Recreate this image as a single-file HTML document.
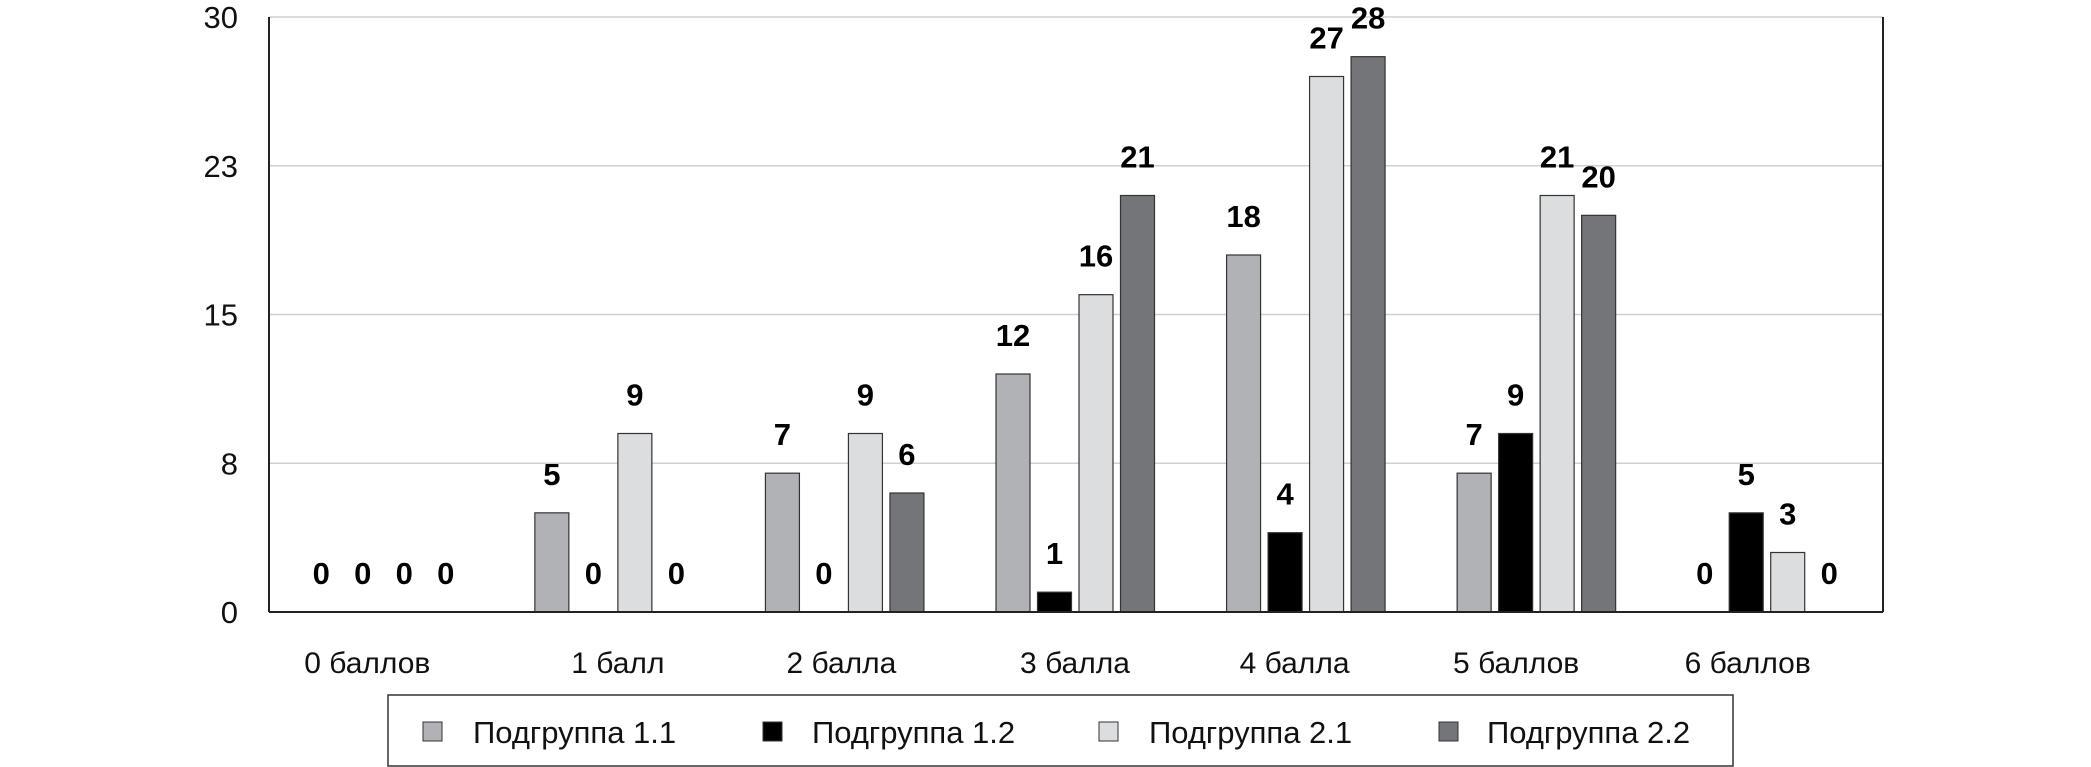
<!DOCTYPE html>
<html><head><meta charset="utf-8"><style>
html,body{margin:0;padding:0;background:#fff;}
svg{display:block;font-family:"Liberation Sans Narrow","Liberation Sans",sans-serif;}
</style></head><body>
<svg id="chart" width="2091" height="767" viewBox="0 0 2091 767"></svg>
<script>
const categories=["0 баллов","1 балл","2 балла","3 балла","4 балла","5 баллов","6 баллов"];
const s11=[0,5,7,12,18,7,0];
const s12=[0,0,0,1,4,9,5];
const s21=[0,9,9,16,27,21,3];
const s22=[0,0,6,21,28,20,0];
const seriesNames=["Подгруппа 1.1","Подгруппа 1.2","Подгруппа 2.1","Подгруппа 2.2"];
const tickValues=[0,7.5,15,22.5,30];
const tickLabels=["0","8","15","23","30"];
const NS="http://www.w3.org/2000/svg";
const svg=document.getElementById('chart');
const colors=["#b1b2b5","#000000","#dcdddf","#747579"];
const labelShift=[-17,3,-4,-1,-12,-21,-20];
const L=269,R=1883,T=17,B=612,YMAX=30;
const y=v=>B-(v/YMAX)*(B-T);
const bw=(R-L)/categories.length;
const xc=i=>L+bw*(i+0.5);
function mk(tag,attrs){const e=document.createElementNS(NS,tag);for(const k in attrs)e.setAttribute(k,attrs[k]);svg.appendChild(e);return e;}
tickValues.forEach((v,i)=>{
  if(v>0){const g=mk('line',{x1:L,x2:R,y1:y(v),y2:y(v),stroke:'#d0d0d0','stroke-width':1.5});
  
  }
  const t=mk('text',{x:238,y:y(v)+11,'text-anchor':'end','font-size':31,fill:'#111'});
  t.textContent=tickLabels[i];
  
  
});
const ax=mk('line',{x1:L,x2:L,y1:T,y2:B,stroke:'#222','stroke-width':2});


const rx=mk('line',{x1:R,x2:R,y1:T,y2:B,stroke:'#222','stroke-width':2});


const series=[s11,s12,s21,s22];
series.forEach((s,si)=>{
  s.forEach((v,ci)=>{
    const x0=xc(ci)-80+si*41.5;
    if(v>0){
      const r=mk('rect',{x:x0,y:y(v),width:34,height:B-y(v),fill:colors[si],stroke:'#333','stroke-width':1.2});
      
      
    }
    const t=mk('text',{x:x0+17,y:y(v)-28,'text-anchor':'middle','font-size':31,'font-weight':'bold',fill:'#000'});
    t.textContent=v;
    
    
  });
});
const bx=mk('line',{x1:L,x2:R,y1:B,y2:B,stroke:'#222','stroke-width':2});


categories.forEach((c,i)=>{
  const t=mk('text',{x:xc(i)+labelShift[i],y:673,'text-anchor':'middle','font-size':30,fill:'#111'});
  t.textContent=c;
  
  
});
const lb=mk('rect',{x:388,y:695,width:1345,height:71,fill:'#fff',stroke:'#333','stroke-width':1.5});


const sqx=[423,763,1099,1439],tx=[473,812,1149,1487];
seriesNames.forEach((n,i)=>{
  const s=mk('rect',{x:sqx[i],y:722,width:19,height:19,fill:colors[i],stroke:'#333','stroke-width':1});
  
  
  const t=mk('text',{x:tx[i],y:743,'font-size':31,fill:'#111'});
  t.textContent=n;
  
  
});
</script>
</body></html>
